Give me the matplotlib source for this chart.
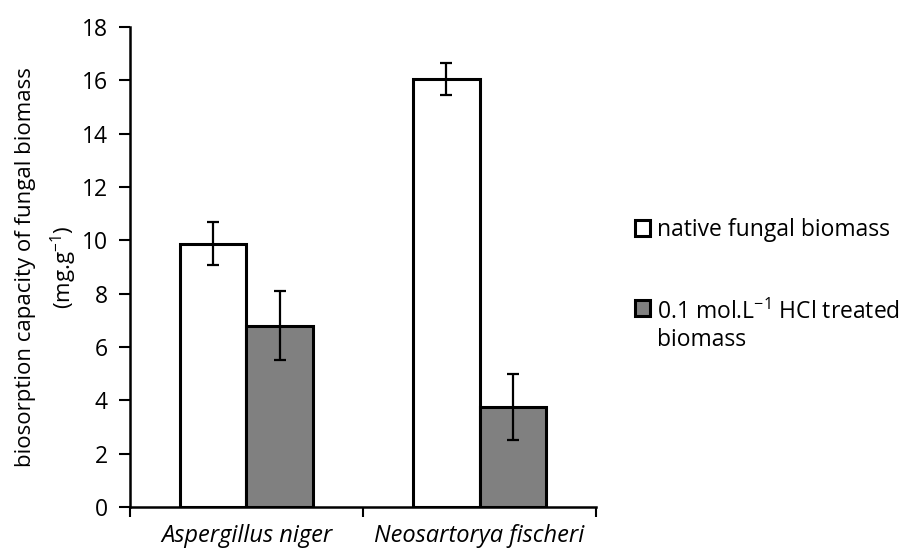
import matplotlib
matplotlib.use("Agg")
import matplotlib.pyplot as plt
import numpy as np

# ── data ─────────────────────────────────────────────────────────────────────
species = ["Aspergillus niger", "Neosartorya fischeri"]
native_vals = [9.88, 16.05]
native_err = [0.82, 0.60]
treated_vals = [6.80, 3.75]
treated_err = [1.30, 1.25]
series_labels = ["native fungal biomass", "0.1 mol.L$^{-1}$ HCl treated\nbiomass"]
yticks = [0, 2, 4, 6, 8, 10, 12, 14, 16, 18]

plt.rcParams["font.family"] = ["Open Sans", "DejaVu Sans"]
plt.rcParams["mathtext.fontset"] = "custom"
plt.rcParams["mathtext.rm"] = "Open Sans"

fig = plt.figure(figsize=(9.05, 5.54), dpi=100)
ax = fig.add_axes([0.1436, 0.0848, 0.515, 0.8665])

x = np.arange(len(species))
w = 0.286
err_kw = dict(ecolor="black", elinewidth=1.6, capsize=4.5, capthick=1.6)
ax.bar(x - w / 2, native_vals, w, yerr=native_err, color="white",
       edgecolor="black", linewidth=2.2, label=series_labels[0], error_kw=err_kw)
ax.bar(x + w / 2, treated_vals, w, yerr=treated_err, color="#808080",
       edgecolor="black", linewidth=2.2, label=series_labels[1], error_kw=err_kw)

ax.set_xlim(-0.5, 1.5)
ax.set_ylim(0, 18)
ax.set_yticks(yticks)
ax.tick_params(axis="y", labelsize=16.5, width=1.5, length=8, direction="out", pad=8)
ax.set_xticks(x)
ax.set_xticklabels(species, fontsize=17, style="italic")
ax.tick_params(axis="x", length=0, pad=12)
ax.set_xticks([-0.5, 0.5, 1.5], minor=True)
ax.tick_params(axis="x", which="minor", length=7, width=1.5, direction="out")

for s in ["top", "right"]:
    ax.spines[s].set_visible(False)
for s in ["left", "bottom"]:
    ax.spines[s].set_linewidth(1.8)

ax.set_ylabel("biosorption capacity of fungal biomass\n(mg.g$^{-1}$)", fontsize=16,
              linespacing=1.55, labelpad=2)

leg = ax.legend(loc="center left", bbox_to_anchor=(1.04, 0.462), frameon=False,
                fontsize=16.5, handlelength=0.65, handleheight=0.65, handletextpad=0.3,
                labelspacing=2.5)
for h in leg.legend_handles:
    h.set_linewidth(2.2)
# second marker sits on the first line of its two-line label, as in Excel
p2 = leg.get_patches()[1]
p2.set_y(p2.get_y() + 13.5)

fig.savefig("out.png", dpi=100)
